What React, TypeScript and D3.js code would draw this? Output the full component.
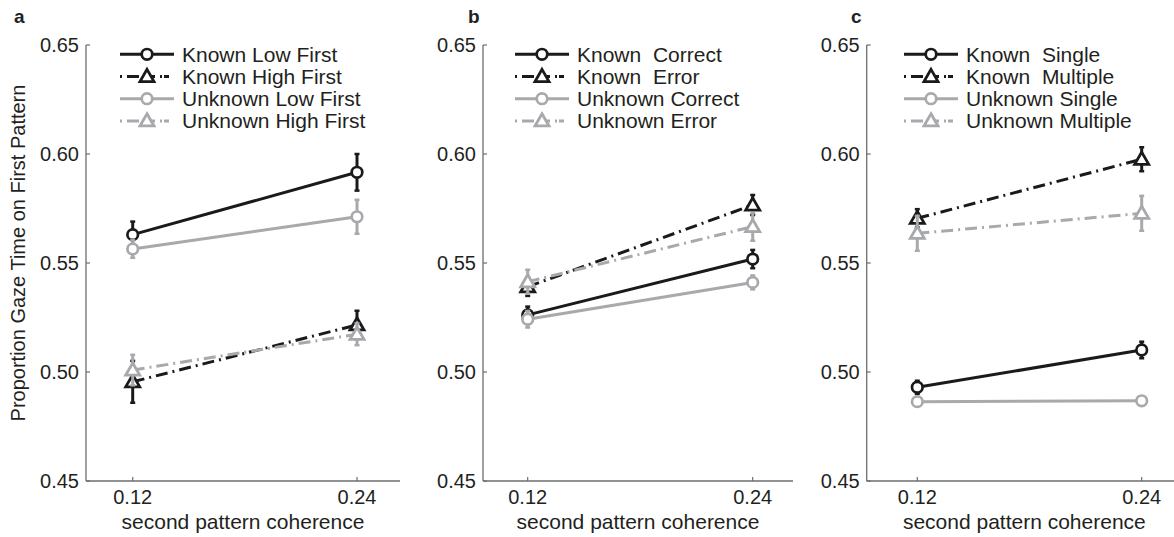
import React from "react";
import * as d3 from "d3";

// x values shared by all three panels
const coherence = [0.12, 0.24];
const yTicks = [0.45, 0.5, 0.55, 0.6, 0.65];

// panel a
const labelsA = ["Known Low First", "Known High First", "Unknown Low First", "Unknown High First"];
const meansA = [
  [0.563, 0.5916],
  [0.4955, 0.5216],
  [0.5564, 0.5712],
  [0.5009, 0.5173],
];
const errA = [
  [0.006, 0.0084],
  [0.0096, 0.0065],
  [0.004, 0.0078],
  [0.007, 0.005],
];

// panel b
const labelsB = ["Known  Correct", "Known  Error", "Unknown Correct", "Unknown Error"];
const meansB = [
  [0.5262, 0.5518],
  [0.5391, 0.5766],
  [0.5242, 0.5411],
  [0.5414, 0.5667],
];
const errB = [
  [0.0038, 0.0042],
  [0.0042, 0.0046],
  [0.0038, 0.0032],
  [0.0055, 0.0065],
];

// panel c
const labelsC = ["Known  Single", "Known  Multiple", "Unknown Single", "Unknown Multiple"];
const meansC = [
  [0.493, 0.5101],
  [0.5705, 0.5976],
  [0.4864, 0.4868],
  [0.5636, 0.5728],
];
const errC = [
  [0.003, 0.0038],
  [0.0042, 0.0055],
  [0.0012, 0.0012],
  [0.008, 0.008],
];

const BLACK = "#1a1a1a";
const GRAY = "#a7a9ac";
const AXIS = "#6d6e71";
const TEXT = "#231f20";
const FONT = "'Liberation Sans', Arial, sans-serif";
const DASHDOT = "12,5,2,5";

// style per series index (same for every panel)
const styles = [
  { color: BLACK, dash: null, shape: "circle" },
  { color: BLACK, dash: DASHDOT, shape: "triangle" },
  { color: GRAY, dash: null, shape: "circle" },
  { color: GRAY, dash: DASHDOT, shape: "triangle" },
];

const panels = [
  { letter: "a", letterX: 14, axisL: 86, axisR: 400, t1: 132.7, t2: 357, legX: 120, labels: labelsA, means: meansA, errs: errA },
  { letter: "b", letterX: 468, axisL: 483, axisR: 793, t1: 527.7, t2: 752.7, legX: 515, labels: labelsB, means: meansB, errs: errB },
  { letter: "c", letterX: 851, axisL: 866.7, axisR: 1176, t1: 917.3, t2: 1141.7, legX: 904, labels: labelsC, means: meansC, errs: errC },
];

const y = d3.scaleLinear().domain([0.45, 0.65]).range([481, 45]);

function Marker({ shape, cx, cy, color }) {
  if (shape === "circle") {
    return <circle cx={cx} cy={cy} r={5.3} fill="#fff" stroke={color} strokeWidth={2.7} />;
  }
  const tri = d3.symbol(d3.symbolTriangle, 85)();
  return (
    <path d={tri} transform={`translate(${cx},${cy + 1})`} fill="#fff" stroke={color} strokeWidth={2.8} strokeLinejoin="miter" />
  );
}

function Panel({ p }) {
  const x = d3.scaleLinear().domain(coherence).range([p.t1, p.t2]);
  const line = d3.line<number>().x((_, i) => x(coherence[i])).y((v) => y(v));
  return (
    <g>
      <text x={p.letterX} y={23} fontFamily={FONT} fontWeight="bold" fontSize={19} fill={TEXT}>
        {p.letter}
      </text>
      {/* axes */}
      <line x1={p.axisL} x2={p.axisL} y1={y(0.65)} y2={y(0.45)} stroke={AXIS} strokeWidth={1.3} />
      <line x1={p.axisL} x2={p.axisR} y1={y(0.45)} y2={y(0.45)} stroke={AXIS} strokeWidth={1.3} />
      {yTicks.map((t) => (
        <g key={t}>
          <line x1={p.axisL} x2={p.axisL + 4} y1={y(t)} y2={y(t)} stroke={AXIS} strokeWidth={1.2} />
          <text x={p.axisL - 7} y={y(t)} dy="0.36em" textAnchor="end" fontFamily={FONT} fontSize={20} fill={TEXT}>
            {d3.format(".2f")(t)}
          </text>
        </g>
      ))}
      {coherence.map((c) => (
        <g key={c}>
          <line x1={x(c)} x2={x(c)} y1={y(0.45)} y2={y(0.45) - 4} stroke={AXIS} strokeWidth={1.2} />
          <text x={x(c)} y={504} textAnchor="middle" fontFamily={FONT} fontSize={20} fill={TEXT}>
            {d3.format(".2f")(c)}
          </text>
        </g>
      ))}
      <text x={(p.axisL + Math.min(p.axisR, 1174)) / 2 + (p.letter === "c" ? 4 : 0)} y={529} textAnchor="middle" fontFamily={FONT} fontSize={21} fill={TEXT}>
        second pattern coherence
      </text>
      {/* series */}
      {p.means.map((m, si) => {
        const st = styles[si];
        return (
          <g key={si}>
            {m.map((v, i) => {
              const e = p.errs[si][i];
              const cx = x(coherence[i]);
              return (
                <g key={i} stroke={st.color} strokeWidth={3}>
                  <line x1={cx} x2={cx} y1={y(v - e)} y2={y(v + e)} />
                  <line x1={cx - 2.5} x2={cx + 2.5} y1={y(v - e)} y2={y(v - e)} strokeWidth={2.5} />
                  <line x1={cx - 2.5} x2={cx + 2.5} y1={y(v + e)} y2={y(v + e)} strokeWidth={2.5} />
                </g>
              );
            })}
            <path d={line(m) || ""} fill="none" stroke={st.color} strokeWidth={3} strokeDasharray={st.dash || undefined} />
            {m.map((v, i) => (
              <Marker key={i} shape={st.shape} cx={x(coherence[i])} cy={y(v)} color={st.color} />
            ))}
          </g>
        );
      })}
      {/* legend */}
      {p.labels.map((lab, i) => {
        const st = styles[i];
        const ly = 54.3 + i * 22.2;
        return (
          <g key={lab}>
            <line x1={p.legX} x2={p.legX + 54} y1={ly} y2={ly} stroke={st.color} strokeWidth={3} strokeDasharray={st.dash ? "2,5,12,4,12,5,2" : undefined} />
            <Marker shape={st.shape} cx={p.legX + 27} cy={ly} color={st.color} />
            <text x={p.legX + 62} y={ly} dy="0.36em" fontFamily={FONT} fontSize={21} fill={TEXT} style={{ whiteSpace: "pre" }}>
              {lab}
            </text>
          </g>
        );
      })}
    </g>
  );
}

export default function App() {
  return (
    <svg width={1174} height={537} style={{ position: "absolute", left: 0, top: 0, background: "#fff" }}>
      <rect width={1174} height={537} fill="#fff" />
      <text transform="translate(25,253) rotate(-90)" textAnchor="middle" fontFamily={FONT} fontSize={20} fill={TEXT}>
        Proportion Gaze Time on First Pattern
      </text>
      {panels.map((p) => (
        <Panel key={p.letter} p={p} />
      ))}
    </svg>
  );
}
